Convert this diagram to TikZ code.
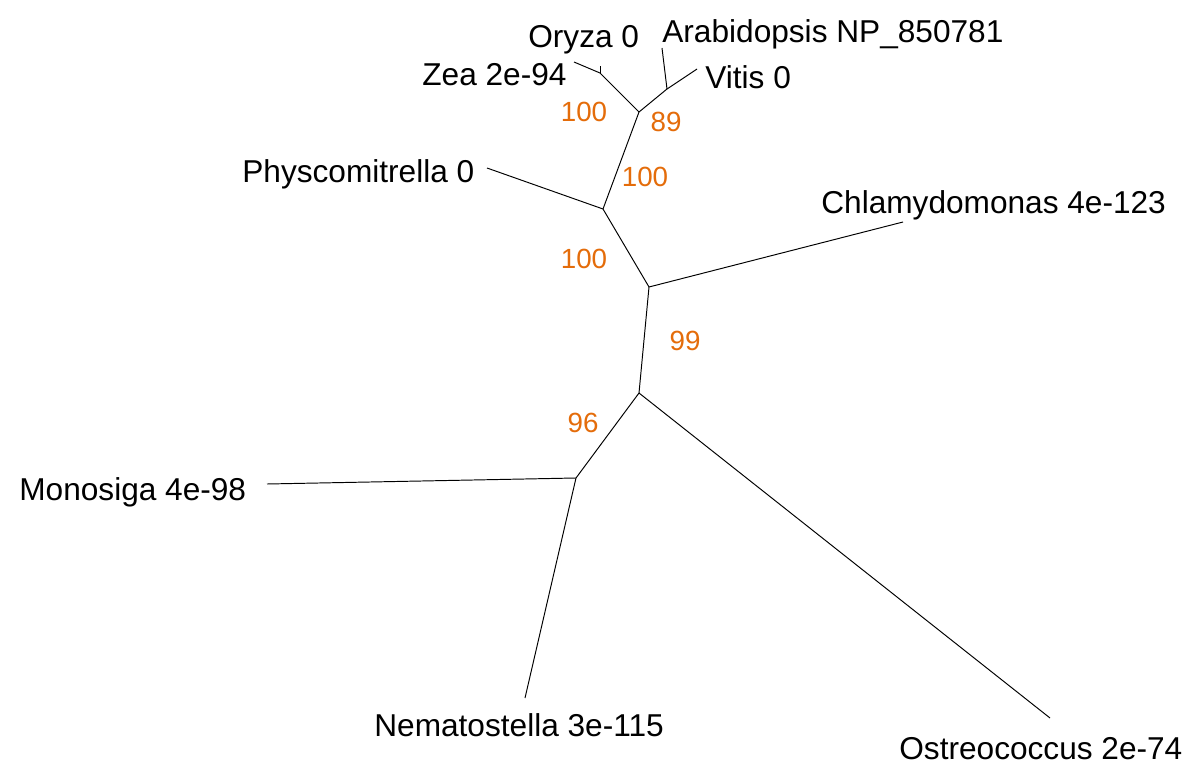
\documentclass[tikz,border=0pt]{standalone}
\usepackage{fontspec}
\setmainfont{Liberation Sans}
\definecolor{boot}{RGB}{228,108,10}
\begin{document}
\begin{tikzpicture}[x=0.02cm,y=-0.02cm,
  branch/.style={draw=black,line width=0.55pt},
  taxon/.style={inner sep=0pt,anchor=base west,font=\fontsize{18}{21}\selectfont},
  support/.style={inner sep=0pt,anchor=center,text=boot,font=\fontsize{15.8}{18}\selectfont}]
\useasboundingbox (0,0) rectangle (1200,777);
% tree vertices
\coordinate (nA) at (639,112);
\coordinate (nOZ) at (600,73);
\coordinate (tOryza) at (600,66);
\coordinate (tZea) at (574,62);
\coordinate (nAV) at (667,89);
\coordinate (tArab) at (662,48);
\coordinate (tVitis) at (697,69);
\coordinate (nP) at (603,209);
\coordinate (tPhys) at (487,168);
\coordinate (nC) at (649,287);
\coordinate (tChlam) at (903,222);
\coordinate (nL) at (639,393);
\coordinate (nM) at (576,478);
\coordinate (tMono) at (267,484);
\coordinate (tNema) at (525,698);
\coordinate (tOstr) at (1050,718);
% branches
\draw[branch] (nOZ) -- (tOryza);
\draw[branch] (nOZ) -- (tZea);
\draw[branch] (nOZ) -- (nA);
\draw[branch] (nAV) -- (tArab);
\draw[branch] (nAV) -- (tVitis);
\draw[branch] (nAV) -- (nA);
\draw[branch] (nA) -- (nP);
\draw[branch] (nP) -- (tPhys);
\draw[branch] (nP) -- (nC);
\draw[branch] (nC) -- (tChlam);
\draw[branch] (nC) -- (nL);
\draw[branch] (nL) -- (nM);
\draw[branch] (nM) -- (tMono);
\draw[branch] (nM) -- (tNema);
\draw[branch] (nL) -- (tOstr);
% taxon labels
\node[taxon] (lOryza) at (528,48) {Oryza 0};
\node[taxon] (lZea) at (422,86) {Zea 2e-94};
\node[taxon] (lArab) at (662,43) {Arabidopsis NP\_850781};
\node[taxon] (lVitis) at (705,89) {Vitis 0};
\node[taxon] (lPhys) at (242,182) {Physcomitrella 0};
\node[taxon] (lChlam) at (821,213) {Chlamydomonas 4e-123};
\node[taxon] (lMono) at (19,500) {Monosiga 4e-98};
\node[taxon] (lNema) at (374,736) {Nematostella 3e-115};
\node[taxon] (lOstr) at (899,759) {Ostreococcus 2e-74};
% bootstrap values
\node[support] (b1) at (584,112) {100};
\node[support] (b2) at (666,122) {89};
\node[support] (b3) at (645,177) {100};
\node[support] (b4) at (584,259) {100};
\node[support] (b5) at (685,341) {99};
\node[support] (b6) at (583,423) {96};
\end{tikzpicture}
\end{document}
